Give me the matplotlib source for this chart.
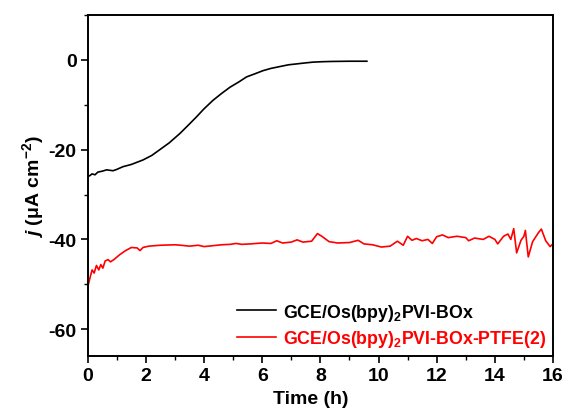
import matplotlib
matplotlib.use("Agg")
import matplotlib.pyplot as plt
from matplotlib.ticker import MultipleLocator

plt.rcParams['font.family'] = ['Liberation Sans', 'DejaVu Sans']
plt.rcParams['font.weight'] = 'bold'
plt.rcParams['axes.unicode_minus'] = False
plt.rcParams['mathtext.fontset'] = 'custom'
plt.rcParams['mathtext.rm'] = 'Liberation Sans:bold'
plt.rcParams['mathtext.it'] = 'Liberation Sans:italic:bold'
plt.rcParams['mathtext.bf'] = 'Liberation Sans:bold'

# GCE/Os(bpy)2PVI-BOx
t_box = [0.0, 0.07, 0.15, 0.25, 0.35, 0.5, 0.65, 0.87, 1.0, 1.21, 1.5, 1.9, 2.2,
         2.48, 2.8, 3.17, 3.45, 3.74, 4.0, 4.31, 4.6, 4.89, 5.2, 5.46, 5.75,
         6.03, 6.3, 6.6, 6.9, 7.18, 7.45, 7.75, 8.1, 8.4, 9.0, 9.6]
j_box = [-26.0, -25.8, -25.4, -25.6, -25.0, -24.8, -24.5, -24.7, -24.4, -23.8,
         -23.3, -22.3, -21.3, -20.0, -18.5, -16.4, -14.6, -12.7, -10.9, -9.0,
         -7.5, -6.1, -4.9, -3.8, -3.1, -2.4, -1.9, -1.5, -1.1, -0.9, -0.7,
         -0.5, -0.4, -0.35, -0.3, -0.3]

# GCE/Os(bpy)2PVI-BOx-PTFE(2)
t_ptfe = [0.0, 0.08, 0.15, 0.22, 0.3, 0.38, 0.45, 0.52, 0.6, 0.7, 0.78, 0.9,
          1.1, 1.3, 1.5, 1.7, 1.8, 1.9, 2.1, 2.5, 3.0, 3.2, 3.5, 3.8, 4.0,
          4.3, 4.6, 4.9, 5.1, 5.3, 5.6, 6.0, 6.3, 6.5, 6.7, 7.0, 7.2, 7.4,
          7.7, 7.9, 8.05, 8.3, 8.6, 9.0, 9.3, 9.5, 9.8, 10.1, 10.4, 10.65,
          10.85, 11.0, 11.15, 11.3, 11.5, 11.7, 11.85, 12.0, 12.2, 12.4, 12.7,
          13.0, 13.1, 13.3, 13.6, 13.8, 14.0, 14.1, 14.3, 14.45, 14.55, 14.65,
          14.75, 14.9, 15.0, 15.05, 15.15, 15.3, 15.5, 15.6, 15.75, 15.9, 16.0]
j_ptfe = [-50.6, -48.5, -46.8, -47.5, -45.8, -46.8, -45.6, -46.4, -44.8, -44.5,
          -45.0, -44.5, -43.4, -42.5, -41.8, -41.9, -42.5, -41.8, -41.5, -41.3,
          -41.2, -41.3, -41.5, -41.3, -41.6, -41.4, -41.2, -41.1, -40.9, -41.1,
          -41.0, -40.8, -40.9, -40.3, -40.8, -40.6, -40.1, -40.6, -40.4, -38.7,
          -39.3, -40.5, -40.8, -40.7, -40.2, -41.0, -41.2, -41.7, -41.5, -40.4,
          -41.3, -39.3, -40.2, -39.8, -40.3, -40.0, -40.9, -39.4, -39.0, -39.6,
          -39.3, -39.6, -40.3, -39.7, -40.0, -39.3, -40.0, -41.0, -39.3, -38.8,
          -40.0, -37.6, -43.0, -40.2, -39.3, -38.0, -43.9, -40.5, -38.5, -37.7,
          -40.3, -41.6, -41.0]

fig = plt.figure(figsize=(5.66, 4.10), dpi=100)
ax = fig.add_axes([0.155, 0.129, 0.822, 0.832])

ax.plot(t_box, j_box, color='black', lw=1.2, label=r'GCE/Os(bpy)$_2$PVI-BOx')
ax.plot(t_ptfe, j_ptfe, color='red', lw=1.2, label=r'GCE/Os(bpy)$_2$PVI-BOx-PTFE(2)')

ax.set_xlim(0, 16)
ax.set_ylim(-66, 10)
ax.xaxis.set_major_locator(MultipleLocator(2))
ax.xaxis.set_minor_locator(MultipleLocator(1))
ax.yaxis.set_major_locator(MultipleLocator(20))
ax.yaxis.set_minor_locator(MultipleLocator(10))
ax.tick_params(which='major', direction='out', length=5, width=1.2, labelsize=14, pad=3)
ax.tick_params(which='minor', direction='out', length=3, width=1.0)
for s in ax.spines.values():
    s.set_linewidth(1.4)

ax.set_xlabel('Time (h)', fontsize=14, fontweight='bold')
ax.xaxis.set_label_coords(0.48, -0.1, transform=ax.transAxes)
ax.xaxis.label.set_va('top')
ax.set_ylabel(r'$j$ (μA cm$^{-2}$)', fontsize=14, fontweight='bold', labelpad=2)

leg = ax.legend(loc='lower right', frameon=False, fontsize=12.8, handlelength=2.2,
                handletextpad=0.4, labelspacing=0.3, borderaxespad=0.0,
                bbox_to_anchor=(1.0, 0.0))
for txt, line in zip(leg.get_texts(), leg.get_lines()):
    txt.set_color(line.get_color())

fig.savefig('out.png', dpi=100)
